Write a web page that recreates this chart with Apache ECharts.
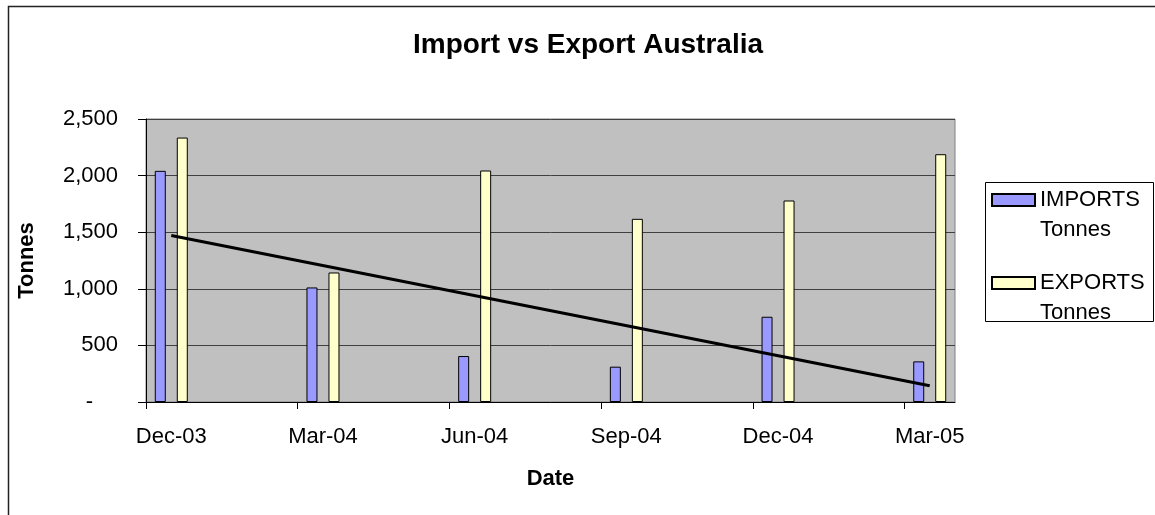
<!DOCTYPE html>
<html>
<head>
<meta charset="utf-8">
<script src="https://cdn.jsdelivr.net/npm/echarts@6/dist/echarts.min.js"></script>
<style>
html,body{margin:0;padding:0;background:#fff;}
#chart{width:1155px;height:515px;}
</style>
</head>
<body>
<div id="chart"></div>
<script>
// ---- data ----
const dates = ['Dec-03', 'Mar-04', 'Jun-04', 'Sep-04', 'Dec-04', 'Mar-05'];
const monthIndex = [0, 3, 6, 9, 12, 15];          // months since Dec-03
const importsTonnes = [2042, 1012, 406, 312, 753, 359];
const exportsTonnes = [2336, 1144, 2045, 1618, 1780, 2189];
const trendEnds = [1471, 143];                    // linear trend (imports), first & last period
const seriesNames = ['IMPORTS Tonnes', 'EXPORTS Tonnes'];

const FONT = "'Liberation Sans', Arial, sans-serif";
const mid = m => m + 0.5; // bars sit in the middle of their month slot

const chart = echarts.init(document.getElementById('chart'), null, {renderer: 'canvas'});
chart.setOption({
  animation: false,
  backgroundColor: '#ffffff',
  title: {
    text: 'Import vs Export Australia',
    left: 583, top: 26, textAlign: 'center',
    textStyle: {fontFamily: FONT, fontSize: 28, fontWeight: 'bold', color: '#000'}
  },
  graphic: [
    {type: 'rect', shape: {x: 8.5, y: 6.5, width: 1300, height: 700},
     style: {fill: 'none', stroke: '#222', lineWidth: 1.5}, silent: true},
    {type: 'rect', shape: {x: 985.5, y: 182.5, width: 168, height: 139},
     style: {fill: '#fff', stroke: '#000', lineWidth: 1}, z: -1, silent: true}
  ],
  legend: {
    data: seriesNames,
    orient: 'vertical',
    left: 991, top: 155,
    padding: 0,
    itemGap: -7,
    itemWidth: 43, itemHeight: 12,
    icon: 'rect',
    formatter: n => '\n' + n.replace(' ', '\n'),
    textStyle: {fontFamily: FONT, fontSize: 22, color: '#000', lineHeight: 30}
  },
  grid: {
    left: 146, top: 119, right: 200, bottom: 113,
    show: true, backgroundColor: '#C0C0C0', borderColor: '#808080', borderWidth: 1
  },
  xAxis: {
    type: 'value', min: 0, max: 16,
    name: 'Date', nameLocation: 'middle', nameGap: 66,
    nameTextStyle: {fontFamily: FONT, fontSize: 22, fontWeight: 'bold', color: '#000'},
    axisLine: {show: true, onZero: false, lineStyle: {color: '#000', width: 1}},
    axisTick: {show: true, length: 7, inside: false, customValues: monthIndex, lineStyle: {color: '#000'}},
    axisLabel: {
      customValues: monthIndex.map(mid), margin: 24,
      fontFamily: FONT, fontSize: 22, color: '#000',
      formatter: v => dates[monthIndex.indexOf(Math.round(v - 0.5))] || ''
    },
    splitLine: {show: false}
  },
  yAxis: {
    type: 'value', min: 0, max: 2500, interval: 500,
    name: 'Tonnes', nameLocation: 'middle', nameGap: 108, nameRotate: 90,
    nameTextStyle: {fontFamily: FONT, fontSize: 22, fontWeight: 'bold', color: '#000'},
    axisLine: {show: true, lineStyle: {color: '#000', width: 1}},
    axisTick: {show: true, length: 8, lineStyle: {color: '#000'}},
    axisLabel: {
      margin: 28, fontFamily: FONT, fontSize: 22, color: '#000',
      formatter: v => v === 0 ? '{d|-}' : v.toLocaleString('en-US'),
      rich: {d: {fontFamily: FONT, fontSize: 22, color: '#000', padding: [0, 25, 0, 0]}}
    },
    splitLine: {show: true, lineStyle: {color: '#404040', width: 1}}
  },
  series: [
    {
      name: seriesNames[0], type: 'bar', barWidth: 11, barGap: '100%',
      itemStyle: {color: '#9999FF', borderColor: '#000', borderWidth: 1},
      data: monthIndex.map((m, i) => [mid(m), importsTonnes[i]])
    },
    {
      name: seriesNames[1], type: 'bar', barWidth: 11, barGap: '100%',
      itemStyle: {color: '#FFFFCC', borderColor: '#000', borderWidth: 1},
      data: monthIndex.map((m, i) => [mid(m), exportsTonnes[i]])
    },
    {
      name: 'Linear trend', type: 'line', showSymbol: false, symbol: 'none', z: 5,
      lineStyle: {color: '#000', width: 3},
      data: [[mid(monthIndex[0]), trendEnds[0]], [mid(monthIndex[monthIndex.length - 1]), trendEnds[1]]]
    }
  ]
});
</script>
</body>
</html>
